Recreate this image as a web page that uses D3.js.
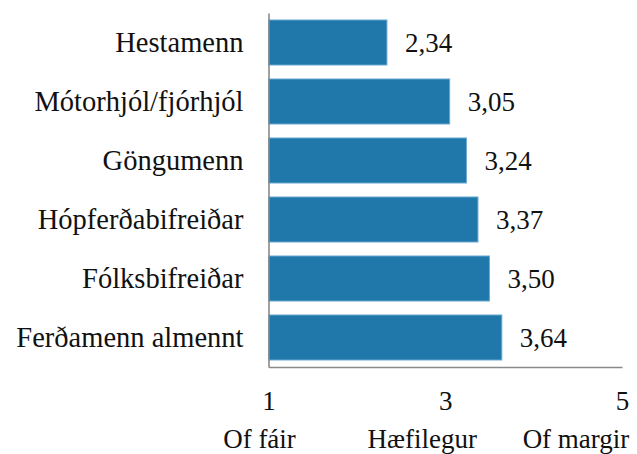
<!DOCTYPE html>
<html>
<head>
<meta charset="utf-8">
<script src="https://cdn.jsdelivr.net/npm/d3@7"></script>
<style>
  html, body { margin: 0; padding: 0; background: #fff; }
  svg { display: block; }
</style>
</head>
<body>
<script>
const categories = ["Hestamenn", "Mótorhjól/fjórhjól", "Göngumenn", "Hópferðabifreiðar", "Fólksbifreiðar", "Ferðamenn almennt"];
const values = [2.34, 3.05, 3.24, 3.37, 3.50, 3.64];
const valueLabels = ["2,34", "3,05", "3,24", "3,37", "3,50", "3,64"];
const tickValues = [1, 3, 5];
const scaleLabels = ["Of fáir", "Hæfilegur", "Of margir"];

const FONT = "'Liberation Serif', 'Times New Roman', serif";
const W = 637, H = 454;
const svg = d3.select("body").append("svg").attr("width", W).attr("height", H);

const x = d3.scaleLinear().domain([1, 5]).range([268.5, 622]);
const y = d3.scaleBand().domain(categories).range([13, 367]).paddingInner(0.237).paddingOuter(0.1185);

// bars
svg.append("g").selectAll("rect").data(values).join("rect")
  .attr("x", x(1))
  .attr("y", (d, i) => y(categories[i]))
  .attr("width", d => x(d) - x(1))
  .attr("height", y.bandwidth())
  .attr("fill", "#1f77aa")
  .attr("stroke", "#6aa9d3")
  .attr("stroke-width", 1);

// value labels
svg.append("g").selectAll("text").data(values).join("text")
  .attr("x", d => x(d) + 18)
  .attr("y", (d, i) => y(categories[i]) + y.bandwidth() / 2)
  .attr("dy", "0.35em")
  .style("font-family", FONT)
  .style("font-size", "27px")
  .style("fill", "#111")
  .text((d, i) => valueLabels[i]);

// category axis
const yAxis = d3.axisLeft(y).tickSize(0).tickPadding(25);
const gy = svg.append("g").attr("transform", `translate(${x(1)},0)`).call(yAxis);
gy.select(".domain").attr("stroke", "#8a8a8a").attr("stroke-width", 1.6);
gy.selectAll("text").style("font-family", FONT).style("font-size", "28.5px").style("fill", "#111");

// value axis
const xAxis = d3.axisBottom(x).tickValues(tickValues).tickSize(0).tickPadding(24).tickFormat(d3.format("d"));
const gx = svg.append("g").attr("transform", `translate(0,${y.range()[1]})`).call(xAxis);
gx.select(".domain").attr("stroke", "#8a8a8a").attr("stroke-width", 1.6);
gx.selectAll("text").style("font-family", FONT).style("font-size", "27px").style("fill", "#111");

// scale descriptors
const descOffsets = [-9, -23, -46];
svg.append("g").selectAll("text").data(scaleLabels).join("text")
  .attr("x", (d, i) => x(tickValues[i]) + descOffsets[i])
  .attr("y", 448)
  .attr("text-anchor", "middle")
  .style("font-family", FONT)
  .style("font-size", "27px")
  .style("fill", "#111")
  .text(d => d);
</script>
</body>
</html>
